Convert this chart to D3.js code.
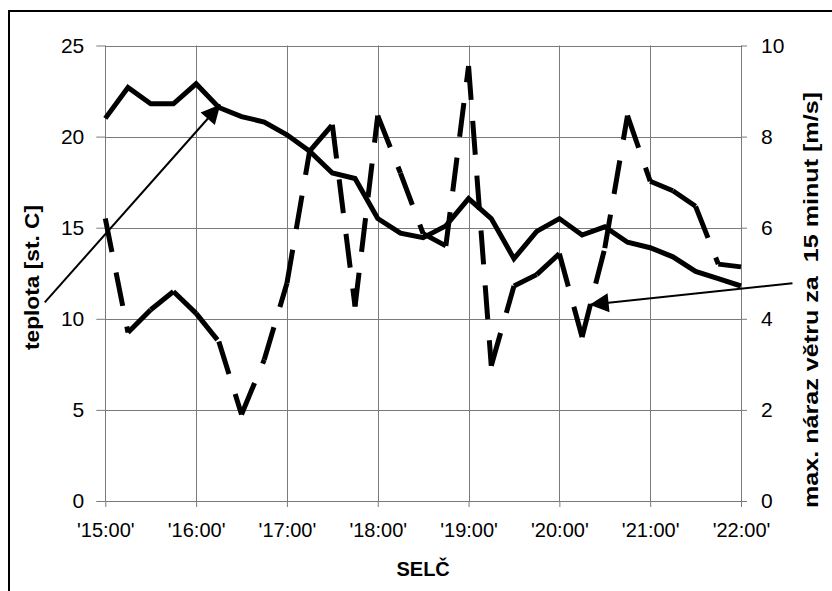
<!DOCTYPE html>
<html><head><meta charset="utf-8">
<script src="https://cdn.jsdelivr.net/npm/d3@7"></script>
<style>html,body{margin:0;padding:0;background:#fff;overflow:hidden}</style>
</head><body><svg id="c" width="832" height="591"></svg>
<script>
// ---- data ----
const times = ["15:00","15:15","15:30","15:45","16:00","16:15","16:30","16:45",
  "17:00","17:15","17:30","17:45","18:00","18:15","18:30","18:45",
  "19:00","19:15","19:30","19:45","20:00","20:15","20:30","20:45",
  "21:00","21:15","21:30","21:45","22:00"];
const temperature = [21.0,22.7,21.8,21.8,22.9,21.6,21.1,20.8,
  20.1,19.2,18.0,17.7,15.5,14.7,14.45,15.1,
  16.6,15.5,13.3,14.8,15.5,14.6,15.05,14.2,
  13.9,13.4,12.6,12.2,11.8];
const windGust = [6.2,3.7,4.2,4.6,4.12,3.5,1.9,3.1,
  4.78,7.68,8.26,4.27,8.46,7.2,5.87,5.6,
  9.55,2.97,4.72,4.97,5.43,3.6,5.55,8.46,
  7.02,6.81,6.47,5.2,5.14];
const hourTicks = ["15:00","16:00","17:00","18:00","19:00","20:00","21:00","22:00"];
const tempTicks = [0,5,10,15,20,25];
const windTicks = [0,2,4,6,8,10];
const leftTitle = "teplota [st. C]";
const rightTitle = "max. náraz větru za  15 minut [m/s]";
const xTitle = "SELČ";
// annotation arrows (time, value on the series' own axis)
const arrowTemp = {from:["14:20",10.9], to:["16:16",21.76]};
const arrowWind = {from:["22:34",4.78], to:["20:20",4.31]};

// ---- layout ----
const svg = d3.select("#c");
const L = 105.3, R = 741, T = 45.5, B = 501;
const parse = d3.timeParse("%H:%M");
const x = d3.scaleTime().domain([parse("15:00"), parse("22:00")]).range([L, R]);
const yT = d3.scaleLinear().domain([0,25]).range([B, T]);
const yW = d3.scaleLinear().domain([0,10]).range([B, T]);
const font = "'Liberation Sans', Arial, sans-serif";
const grid = "#7a7a7a";

// frame
svg.append("rect").attr("x",9).attr("y",11).attr("width",900).attr("height",700)
  .attr("fill","none").attr("stroke","#000").attr("stroke-width",2);

// gridlines
svg.append("g").selectAll("line").data(tempTicks).join("line")
  .attr("x1",L).attr("x2",R).attr("y1",d=>Math.round(yT(d))+0.5).attr("y2",d=>Math.round(yT(d))+0.5)
  .attr("stroke",grid).attr("stroke-width",1);
svg.append("g").selectAll("line").data(hourTicks).join("line")
  .attr("x1",d=>Math.round(x(parse(d)))+0.5).attr("x2",d=>Math.round(x(parse(d)))+0.5)
  .attr("y1",T).attr("y2",B).attr("stroke",grid).attr("stroke-width",1);

// axes
function styleAxis(g){
  g.select(".domain").remove();
  g.selectAll(".tick line").attr("stroke",grid);
  g.selectAll(".tick text").attr("fill","#000").style("font-family",font);
}
svg.append("g").attr("transform",`translate(${L},0)`)
  .call(d3.axisLeft(yT).tickValues(tempTicks).tickSize(9).tickPadding(12).tickFormat(d3.format("d")))
  .call(styleAxis).selectAll(".tick text").style("font-size","21px");
svg.append("g").attr("transform",`translate(${R},0)`)
  .call(d3.axisRight(yW).tickValues(windTicks).tickSize(6).tickPadding(14).tickFormat(d3.format("d")))
  .call(styleAxis).selectAll(".tick text").style("font-size","21px");
svg.append("g").attr("transform",`translate(0,${B})`)
  .call(d3.axisBottom(x).tickValues(hourTicks.map(parse)).tickSize(6).tickPadding(16)
    .tickFormat(d=>"'"+d3.timeFormat("%H:%M")(d)+"'"))
  .call(styleAxis).selectAll(".tick text").style("font-size","20px");

// temperature (solid)
const tPts = times.map((t,i)=>[x(parse(t)), yT(temperature[i])]);
svg.append("path").attr("d", d3.line()(tPts)).attr("fill","none")
  .attr("stroke","#000").attr("stroke-width",5).attr("stroke-linejoin","miter");

// wind gust (dashed; dash pattern restarts at each vertex)
const wPts = times.map((t,i)=>[x(parse(t)), yW(windGust[i])]);
svg.append("g").selectAll("path").data(d3.pairs(wPts)).join("path")
  .attr("d", d=>d3.line()(d)).attr("fill","none").attr("stroke","#000")
  .attr("stroke-width",5).attr("stroke-dasharray","34,21").attr("stroke-linecap","butt");

// arrows
const defs = svg.append("defs");
defs.append("marker").attr("id","ah").attr("markerUnits","userSpaceOnUse")
  .attr("markerWidth",24).attr("markerHeight",24).attr("viewBox","-22 -12 24 24")
  .attr("refX",0).attr("refY",0).attr("orient","auto")
  .append("path").attr("d","M0,0L-19,-9.5L-19,9.5Z").attr("fill","#000");
function arrow(a, y){
  svg.append("line")
    .attr("x1",x(parse(a.from[0]))).attr("y1",y(a.from[1]))
    .attr("x2",x(parse(a.to[0]))).attr("y2",y(a.to[1]))
    .attr("stroke","#000").attr("stroke-width",2).attr("marker-end","url(#ah)");
}
arrow(arrowTemp, yT);
arrow(arrowWind, yW);

// titles
svg.append("text").attr("transform","translate(39,277.5) rotate(-90)")
  .attr("text-anchor","middle").style("font-family",font).style("font-weight","bold")
  .style("font-size","20px").attr("textLength",145).attr("lengthAdjust","spacingAndGlyphs")
  .text(leftTitle);
svg.append("text").attr("transform","translate(818,300) rotate(-90)")
  .attr("text-anchor","middle").style("font-family",font).style("font-weight","bold")
  .style("font-size","21px").style("white-space","pre").attr("textLength",416).attr("lengthAdjust","spacingAndGlyphs")
  .text(rightTitle);
svg.append("text").attr("x",(L+R)/2).attr("y",576).attr("text-anchor","middle")
  .style("font-family",font).style("font-weight","bold").style("font-size","20px")
  .text(xTitle);
</script></body></html>
